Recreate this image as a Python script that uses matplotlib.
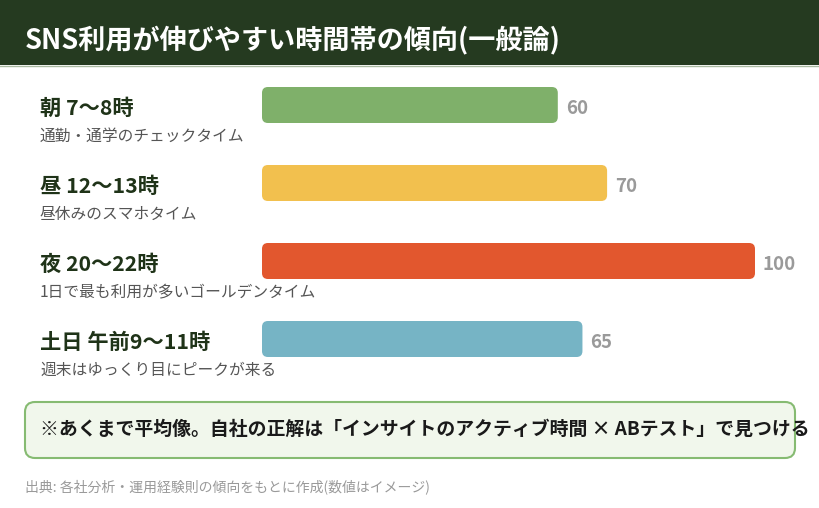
import matplotlib
matplotlib.use("Agg")
import matplotlib.pyplot as plt
from matplotlib.patches import FancyBboxPatch, Rectangle

plt.rcParams['font.family'] = ['Noto Sans CJK JP', 'DejaVu Sans']

# データ
title = "SNS利用が伸びやすい時間帯の傾向(一般論)"
slots = ["朝 7〜8時", "昼 12〜13時", "夜 20〜22時", "土日 午前9〜11時"]
notes = ["通勤・通学のチェックタイム", "昼休みのスマホタイム",
         "1日で最も利用が多いゴールデンタイム", "週末はゆっくり目にピークが来る"]
values = [60, 70, 100, 65]
colors = ["#7fb06a", "#f2c04e", "#e2572e", "#76b4c5"]
memo = "※あくまで平均像。自社の正解は「インサイトのアクティブ時間 × ABテスト」で見つける"
source = "出典: 各社分析・運用経験則の傾向をもとに作成(数値はイメージ)"

W, H = 820, 508
fig = plt.figure(figsize=(W / 100, H / 100), dpi=100)
fig.patch.set_facecolor("white")

# 背景・テキスト用のピクセル座標の軸
bg = fig.add_axes([0, 0, 1, 1])
bg.set_xlim(0, W)
bg.set_ylim(H, 0)
bg.set_axis_off()

# タイトルバー
bg.add_patch(Rectangle((0, 0), W, 65, facecolor="#253a20", edgecolor="none"))
bg.plot([0, W], [66, 66], color="#a9b9a2", lw=1.0)
bg.text(25, 40, title, color="white", fontsize=19.5, fontweight="bold",
        va="center", ha="left")

# 棒グラフの軸
row_h = 78
top = 66
ax = fig.add_axes([262 / W, 1 - (top + row_h * 4) / H, 493 / W, row_h * 4 / H])
ax.set_xlim(0, 100)
ax.set_ylim(3.5, -0.5)
ax.set_axis_off()

bar_h = 36 / row_h
bars = ax.barh(range(len(values)), values, height=bar_h, color=colors)
for b, c in zip(bars, colors):
    x, y = b.get_x(), b.get_y()
    w, h = b.get_width(), b.get_height()
    b.set_visible(False)
    px_x = 493 / 100
    px_y = row_h
    ax.add_patch(FancyBboxPatch((x, y), w, h,
                                boxstyle="round,pad=0,rounding_size=1.2",
                                mutation_aspect=px_x / px_y,
                                facecolor=c, edgecolor="none"))

for i, v in enumerate(values):
    ax.text(v + 1.6, i + 0.04, str(v), color="#9a9a9a", fontsize=13.5,
            fontweight="bold", va="center", ha="left")

# 左側ラベル
for i, (s, n) in enumerate(zip(slots, notes)):
    cy = top + row_h * (i + 0.5)
    bg.text(40, cy + 3, s, color="#1f3318", fontsize=15.3, fontweight="bold",
            va="center", ha="left")
    bg.text(40, cy + 31, n, color="#555555", fontsize=11.3,
            va="center", ha="left")

# 注記ボックス
bg.add_patch(FancyBboxPatch((25, 402), 770, 56,
                            boxstyle="round,pad=0,rounding_size=10",
                            facecolor="#f1f7ec", edgecolor="#86bb72", lw=1.5))
bg.text(40, 429, memo, color="#1a1a1a", fontsize=13.6, fontweight="bold",
        va="center", ha="left")

# 出典
bg.text(25, 487, source, color="#9a9a9a", fontsize=10, va="center", ha="left")

fig.savefig("out.png", dpi=100, facecolor="white")
